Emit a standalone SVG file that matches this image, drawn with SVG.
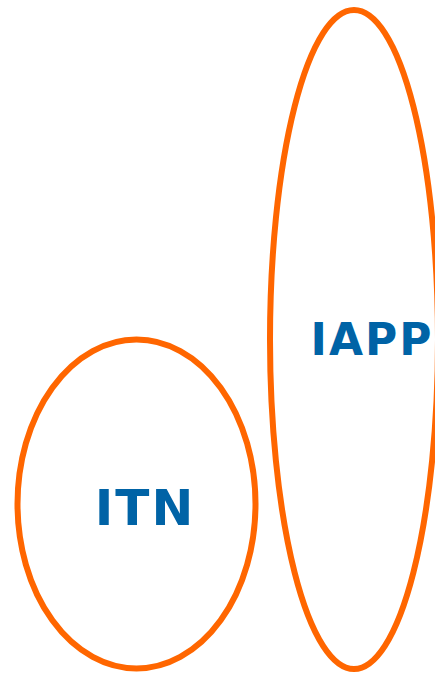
<svg xmlns="http://www.w3.org/2000/svg" width="435" height="675" viewBox="0 0 435 675">
<style>
.n{fill:none;stroke:#ff6600;stroke-width:6}
.t{font-family:"DejaVu Sans",sans-serif;font-weight:bold;fill:#0063a6;text-anchor:middle}
</style>
<rect width="435" height="675" fill="#fff"/>
<g id="IAPP">
<ellipse class="n" cx="354" cy="339.5" rx="84" ry="329.5"/>
<text class="t" x="372" y="355" font-size="44" letter-spacing="2">IAPP</text>
</g>
<g id="ITN">
<ellipse class="n" cx="136.5" cy="504" rx="119" ry="164.5"/>
<text class="t" x="145" y="525" font-size="50" letter-spacing="2">ITN</text>
</g>
<g id="connectors"></g>
</svg>
